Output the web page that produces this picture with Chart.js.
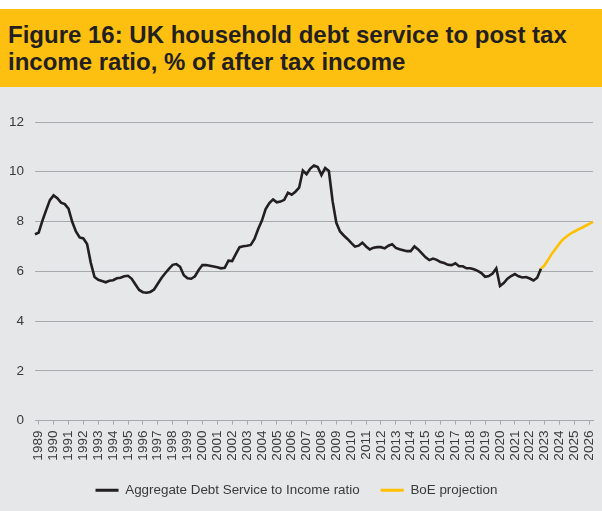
<!DOCTYPE html>
<html>
<head>
<meta charset="utf-8">
<script src="https://cdn.jsdelivr.net/npm/chart.js@4.4.1/dist/chart.umd.min.js"></script>
<style>
  body { margin: 0; width: 602px; height: 511px; background: #fff; overflow: hidden; font-family: "Liberation Sans", Arial, sans-serif; }
  #title { position: absolute; left: 0; top: 9px; width: 602px; height: 78px; box-sizing: border-box; padding: 12px 0 0 8px;
           background: #FDC010; color: #231F20; font-weight: bold; font-size: 24px; line-height: 27px; white-space: nowrap; }
  #panel { position: absolute; left: 0; top: 87px; width: 602px; height: 424px; background: #E6E7E8; }
</style>
</head>
<body>
<div id="title">Figure 16: UK household debt service to post tax<br>income ratio, % of after tax income</div>
<div id="panel"><canvas id="chart" width="602" height="424"></canvas></div>
<script>
// quarterly series, first point is 1988 Q4
const firstYear = 1988;
const firstQuarter = 4;
const quarterCount = 151;

// Aggregate debt service to income ratio, 1988 Q4 - 2022 Q4
const debtService = [
  7.48, 7.56, 8.04, 8.46, 8.86, 9.05, 8.94, 8.76, 8.70, 8.52,
  7.99, 7.60, 7.36, 7.32, 7.10, 6.34, 5.77, 5.66, 5.61, 5.56,
  5.62, 5.64, 5.72, 5.74, 5.80, 5.82, 5.70, 5.47, 5.25, 5.16,
  5.14, 5.17, 5.27, 5.50, 5.73, 5.92, 6.10, 6.26, 6.29, 6.18,
  5.84, 5.72, 5.70, 5.80, 6.05, 6.25, 6.25, 6.22, 6.19, 6.16,
  6.12, 6.14, 6.43, 6.41, 6.70, 6.97, 7.01, 7.03, 7.06, 7.30,
  7.70, 8.04, 8.50, 8.74, 8.89, 8.77, 8.80, 8.87, 9.16, 9.08,
  9.20, 9.36, 10.05, 9.90, 10.13, 10.25, 10.19, 9.87, 10.15, 10.03,
  8.82, 7.95, 7.60, 7.44, 7.30, 7.14, 6.99, 7.03, 7.15, 7.00,
  6.88, 6.95, 6.97, 6.97, 6.92, 7.03, 7.09, 6.94, 6.89, 6.85,
  6.81, 6.81, 7.00, 6.88, 6.72, 6.56, 6.45, 6.51, 6.46, 6.37,
  6.33, 6.26, 6.25, 6.32, 6.20, 6.20, 6.12, 6.12, 6.08, 6.02,
  5.93, 5.78, 5.81, 5.91, 6.12, 5.41, 5.53, 5.70, 5.81, 5.89,
  5.80, 5.75, 5.77, 5.71, 5.63, 5.74, 6.10
];

// BoE projection, 2022 Q4 - 2026 Q2
const projectionStart = 136;
const boeProjection = [
  6.10, 6.25, 6.48, 6.72, 6.92, 7.12, 7.29, 7.41, 7.52, 7.60,
  7.68, 7.75, 7.83, 7.91, 7.99
];

const quarterLabels = [];
for (let i = 0; i < quarterCount; i++) {
  const q = firstQuarter - 1 + i;
  quarterLabels.push((firstYear + Math.floor(q / 4)) + ' Q' + (q % 4 + 1));
}
const isYearStart = i => quarterLabels[i] && quarterLabels[i].endsWith('Q1');

const projectionData = new Array(projectionStart).fill(null).concat(boeProjection);

const gridGrey = '#A7A9AC';
const textColor = '#3A3A3A';
const font = 'Liberation Sans, Arial, sans-serif';

new Chart(document.getElementById('chart'), {
  type: 'line',
  data: {
    labels: quarterLabels,
    datasets: [
      {
        label: 'Aggregate Debt Service to Income ratio',
        data: debtService,
        borderColor: '#231F20',
        backgroundColor: '#231F20',
        borderWidth: 2.6,
        pointRadius: 0,
        tension: 0
      },
      {
        label: 'BoE projection',
        data: projectionData,
        borderColor: '#FFC000',
        backgroundColor: '#FFC000',
        borderWidth: 2.6,
        pointRadius: 0,
        tension: 0
      }
    ]
  },
  options: {
    responsive: false,
    animation: false,
    layout: { padding: { top: 35, right: 9, bottom: 4, left: 0 } },
    scales: {
      x: {
        type: 'category',
        offset: false,
        afterFit: scale => {
          scale.height = 42;
          // keep the rotated end labels from shrinking the plot sideways
          scale.paddingLeft = 0;
          scale.paddingRight = 0;
        },
        border: { display: true, color: gridGrey, width: 1 },
        grid: {
          drawOnChartArea: false,
          drawTicks: true,
          tickLength: 4,
          color: ctx => isYearStart(ctx.index) ? gridGrey : 'rgba(0,0,0,0)'
        },
        ticks: {
          autoSkip: false,
          maxRotation: 90,
          minRotation: 90,
          padding: 6,
          color: textColor,
          font: { family: font, size: 13.5 },
          callback: function (value, index) {
            return isYearStart(index) ? quarterLabels[index].slice(0, 4) : '';
          }
        }
      },
      y: {
        min: 0,
        max: 12,
        afterFit: scale => { scale.width = 35; },
        border: { display: false },
        grid: { color: gridGrey, lineWidth: 1, drawTicks: false },
        ticks: {
          stepSize: 2,
          padding: 11,
          color: textColor,
          font: { family: font, size: 13.5 }
        }
      }
    },
    plugins: {
      tooltip: { enabled: false },
      legend: {
        position: 'bottom',
        labels: {
          boxWidth: 23,
          boxHeight: 3,
          padding: 21,
          color: textColor,
          font: { family: font, size: 13.4 },
          generateLabels: chart => Chart.defaults.plugins.legend.labels.generateLabels(chart)
            .map(item => Object.assign(item, { lineWidth: 0, fillStyle: item.strokeStyle }))
        }
      }
    }
  }
});
</script>
</body>
</html>
